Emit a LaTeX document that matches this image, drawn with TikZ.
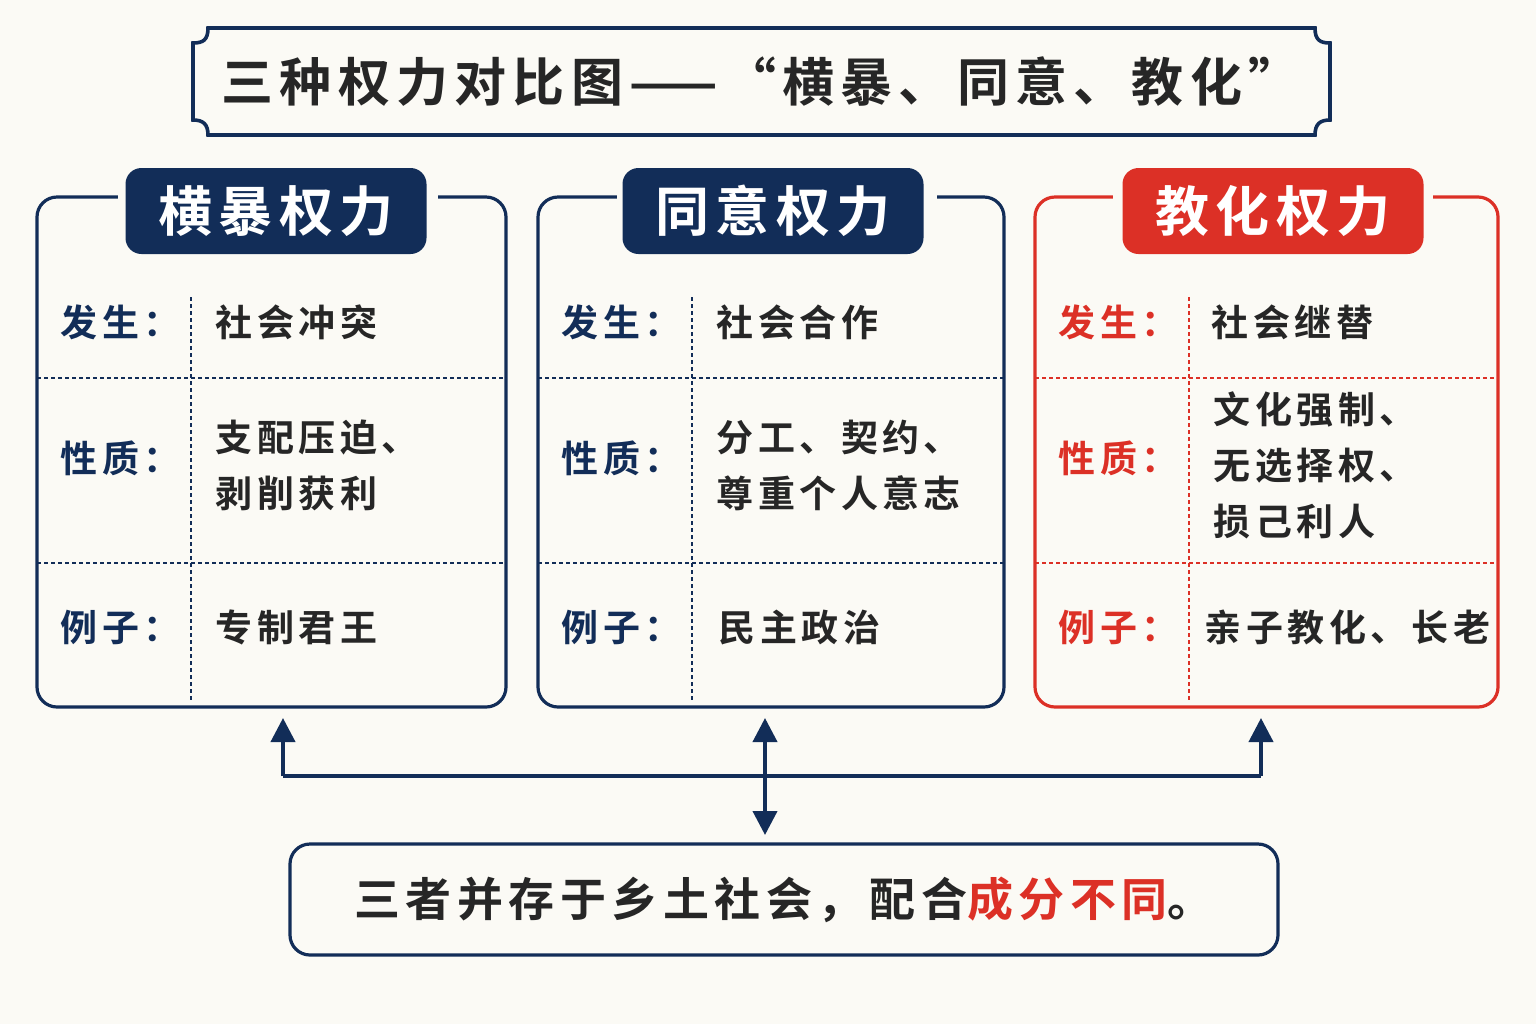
\documentclass[tikz,border=0pt]{standalone}
\usepackage{fontspec}
\setmainfont{Noto Sans CJK SC}
\newfontfamily\cjkb{Noto Sans CJK SC Bold}
\newfontfamily\cjks[LetterSpace=12]{Noto Sans CJK SC Bold}
\usetikzlibrary{arrows.meta}
\definecolor{navy}{RGB}{18,45,88}
\definecolor{hired}{RGB}{220,48,38}
\definecolor{paper}{RGB}{251,250,245}
\tikzset{every picture/.style={line width=0.75pt}}
\tikzset{
  panel/.style={draw=#1, line width=1.6pt, rounded corners=10pt},
  tab/.style={fill=#1, rounded corners=8pt, text=white, font=\cjks\fontsize{27}{30}\selectfont, minimum width=150.5pt, minimum height=43pt, inner sep=0pt},
  lab/.style={anchor=west, inner sep=0pt, text=#1, font=\cjks\fontsize{18.5}{21}\selectfont},
  val/.style={anchor=west, inner sep=0pt, text=black!85, align=left, font=\cjks\fontsize{18.5}{28}\selectfont},
  grid/.style={draw=#1, line width=0.6pt, dash pattern=on 2pt off 1.5pt},
  conn/.style={draw=navy, line width=2pt, -{Triangle[length=12pt,width=12pt]}}
}
\begin{document}
\begin{tikzpicture}[x=0.5pt,y=0.5pt,yscale=-1]
\fill[paper] (0,0) rectangle (1536,1024);

% title
\draw[navy, line width=1.8pt] (208,28) -- (1315,28) .. controls (1315,40) and (1320,43) .. (1330,43) -- (1330,120) .. controls (1320,120) and (1315,124) .. (1315,135) -- (208,135) .. controls (208,124) and (203,120) .. (193,120) -- (193,43) .. controls (203,43) and (208,40) .. (208,28) -- cycle;
\node[font=\cjks\fontsize{26}{30}\selectfont, text=black!85] (title) at (761,82) {三种权力对比图——“横暴、同意、教化”};

% panels
\foreach \n/\x/\w/\c/\vd in {
  hb/37/469/navy/{支配压迫、\\剥削获利},
  ty/538/466/navy/{分工、契约、\\尊重个人意志},
  jh/1035/463/hired/{文化强制、\\无选择权、\\损己利人}}{
  \draw[panel=\c] (\x,197) rectangle ++(\w,510);
  \node[minimum width=\w*0.5pt, minimum height=255pt, inner sep=0pt, anchor=north west] (\n) at (\x,197) {};
  \node[minimum width=160pt, minimum height=43pt, fill=paper, inner sep=0pt] (\n tab) at (\x+\w/2+6,211) {};
  \draw[grid=\c] (\x,378) -- ++(\w,0) (\x,563) -- ++(\w,0) (\x+154,297) -- (\x+154,700);
  \node[lab=\c] (\n a) at (\x+23,322) {发生：};
  \node[lab=\c] (\n b) at (\x+23,458) {性质：};
  \node[lab=\c] (\n c) at (\x+23,627) {例子：};
  \node[val] (\n bv) at (\x+178,465) {\vd};
}
\node[tab=navy] (hb head) at (276,211) {横暴权力};
\node[tab=navy] (ty head) at (773,211) {同意权力};
\node[tab=hired] (jh head) at (1273,211) {教化权力};

\node[val] at (215,322) {社会冲突};
\node[val] at (716,322) {社会合作};
\node[val] at (1211,322) {社会继替};
\node[val] at (215,627) {专制君王};
\node[val] at (718,627) {民主政治};
\node[val] at (1204,627) {亲子教化、长老};

% bottom
\node[draw=navy, line width=1.6pt, rounded corners=10pt, minimum width=494pt, minimum height=55.5pt, inner sep=0pt, font=\cjks\fontsize{23}{26}\selectfont, text=black!85] (sum) at (784,899.5) {三者并存于乡土社会，配合\textcolor{hired}{成分不同}。};

\coordinate (jl) at (283,776);
\coordinate (jr) at (1261,776);
\coordinate (jt) at (765,718);
\coordinate (jb) at (765,835);
\draw[navy, line width=2pt] (jl) -- (jr);
\draw[conn] (jl) -- (283,718);
\draw[conn] (jr) -- (1261,718);
\draw[conn, {Triangle[length=12pt,width=12pt]}-{Triangle[length=12pt,width=12pt]}] (jt) -- (jb);
\end{tikzpicture}
\end{document}
